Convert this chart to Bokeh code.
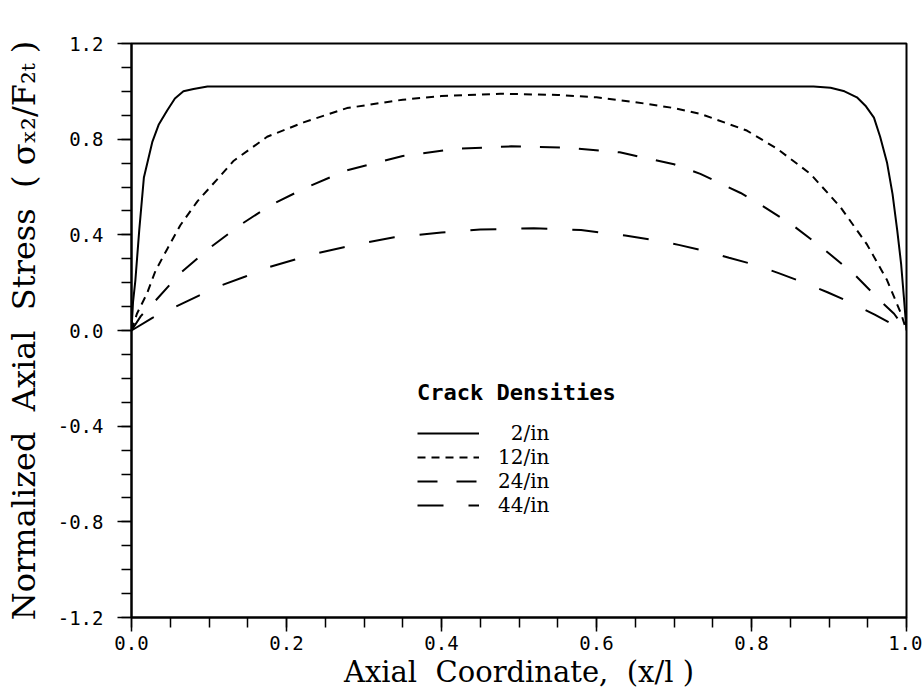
from bokeh.plotting import figure
from bokeh.models import Range1d, FixedTicker, PrintfTickFormatter, Legend, LegendItem
from bokeh.embed import file_html
from bokeh.resources import INLINE
import numpy as np

# ---- data ----
x_2 = [0, 0.002, 0.005, 0.01, 0.016, 0.027, 0.035, 0.046, 0.056, 0.067, 0.08, 0.098, 0.12,
       0.5, 0.88, 0.902, 0.92, 0.936, 0.947, 0.958, 0.966, 0.975, 0.982, 0.988, 0.993, 0.9966, 1.0]
y_2 = [0, 0.12, 0.21, 0.42, 0.64, 0.79, 0.86, 0.92, 0.97, 1.0, 1.01, 1.02, 1.02,
       1.02, 1.02, 1.015, 1.0, 0.975, 0.94, 0.89, 0.81, 0.70, 0.57, 0.42, 0.28, 0.14, 0.0]

x_12 = [0, 0.007, 0.02, 0.031, 0.046, 0.063, 0.085, 0.11, 0.132, 0.175, 0.222, 0.278, 0.35,
        0.4, 0.476, 0.55, 0.6, 0.65, 0.7, 0.734, 0.794, 0.833, 0.876, 0.915, 0.949, 0.975, 0.993, 1.0]
y_12 = [0, 0.07, 0.155, 0.25, 0.34, 0.44, 0.54, 0.63, 0.71, 0.81, 0.87, 0.93, 0.965,
        0.98, 0.99, 0.985, 0.975, 0.955, 0.93, 0.906, 0.836, 0.76, 0.655, 0.515, 0.36, 0.21, 0.07, 0]

x_24 = [0, 0.012, 0.031, 0.063, 0.102, 0.141, 0.181, 0.227, 0.278, 0.35, 0.42, 0.49, 0.56,
        0.63, 0.7, 0.734, 0.786, 0.81, 0.852, 0.893, 0.932, 0.966, 0.984, 1.0]
y_24 = [0, 0.06, 0.125, 0.24, 0.348, 0.443, 0.527, 0.60, 0.67, 0.73, 0.76, 0.77, 0.765,
        0.745, 0.695, 0.655, 0.575, 0.53, 0.443, 0.341, 0.237, 0.125, 0.07, 0]

x_44 = [0, 0.027, 0.057, 0.087, 0.117, 0.147, 0.177, 0.21, 0.242, 0.274, 0.306, 0.339, 0.4,
        0.45, 0.519, 0.58, 0.637, 0.67, 0.706, 0.738, 0.771, 0.803, 0.835, 0.868, 0.898,
        0.93, 0.959, 0.989, 1.0]
y_44 = [0, 0.053, 0.10, 0.146, 0.19, 0.226, 0.265, 0.296, 0.325, 0.348, 0.37, 0.39, 0.41,
        0.422, 0.428, 0.42, 0.397, 0.38, 0.358, 0.334, 0.304, 0.276, 0.24, 0.20, 0.16,
        0.114, 0.066, 0.014, 0]

NB = "\u00a0"
series_labels = [NB + NB + "2/in", "12/in", "24/in", "44/in"]
legend_title = "Crack Densities"

x_ticks = [0.0, 0.2, 0.4, 0.6, 0.8, 1.0]
y_ticks = [-1.2, -0.8, -0.4, 0.0, 0.4, 0.8, 1.2]

x_label = f"Axial{NB} Coordinate,{NB} (x/l{NB})"
y_label = f"Normalized{NB} Axial{NB} Stress{NB} ( σₓ₂/F₂ₜ )"

# ---- figure ----
p = figure(width=922, height=696, output_backend="svg", toolbar_location=None,
           x_range=Range1d(0, 1), y_range=Range1d(-1.2, 1.2),
           min_border_left=131, min_border_right=16, min_border_top=43, min_border_bottom=79)
p.background_fill_color = "white"
p.border_fill_color = "white"
p.grid.visible = False
p.outline_line_color = "black"
p.outline_line_width = 2
p.outline_line_alpha = 1

x_minor = [round(v, 3) for v in np.arange(0, 1.0001, 0.05)]
y_minor = [round(v, 2) for v in np.arange(-1.2, 1.2001, 0.1)]
p.xaxis.ticker = FixedTicker(ticks=x_ticks, minor_ticks=x_minor)
p.yaxis.ticker = FixedTicker(ticks=y_ticks, minor_ticks=y_minor)
p.xaxis.formatter = PrintfTickFormatter(format="%.1f")
p.yaxis.formatter = PrintfTickFormatter(format="%.1f")

for ax in (p.xaxis[0], p.yaxis[0]):
    ax.axis_line_width = 2
    ax.axis_line_color = "black"
    ax.major_tick_line_width = 1.5
    ax.minor_tick_line_width = 1.5
    ax.major_tick_line_color = "black"
    ax.minor_tick_line_color = "black"
    ax.major_tick_in = 0
    ax.minor_tick_in = 0
    ax.major_label_text_font = "DejaVu Sans Mono"
    ax.major_label_text_font_size = "19px"
    ax.major_label_text_color = "black"
    ax.axis_label_text_font = "DejaVu Serif"
    ax.axis_label_text_font_style = "normal"
    ax.axis_label_text_color = "black"

p.xaxis.axis_label_text_font_size = "29px"
p.yaxis.axis_label_text_font_size = "32px"
p.xaxis.major_tick_out = 14
p.xaxis.minor_tick_out = 10
p.yaxis.major_tick_out = 14
p.yaxis.minor_tick_out = 10
p.xaxis.major_label_standoff = 4
p.yaxis.major_label_standoff = 14
p.xaxis.axis_label = x_label
p.yaxis.axis_label = y_label
p.xaxis.axis_label_standoff = 2
p.yaxis.axis_label_standoff = 12

r2 = p.line(x_2, y_2, line_color="black", line_width=2)
r12 = p.line(x_12, y_12, line_color="black", line_width=2, line_dash="8 6")
r24 = p.line(x_24, y_24, line_color="black", line_width=2, line_dash="20 19")
r44 = p.line(x_44, y_44, line_color="black", line_width=2, line_dash="26 25")

legend = Legend(items=[LegendItem(label=series_labels[0], renderers=[r2]),
                       LegendItem(label=series_labels[1], renderers=[r12]),
                       LegendItem(label=series_labels[2], renderers=[r24]),
                       LegendItem(label=series_labels[3], renderers=[r44])],
                location=(286, 100))
legend.title = legend_title
legend.title_text_font = "DejaVu Sans Mono"
legend.title_text_font_style = "bold"
legend.title_text_font_size = "22px"
legend.title_text_color = "black"
legend.title_standoff = 16
legend.label_text_font = "DejaVu Serif"
legend.label_text_font_size = "20px"
legend.label_text_color = "black"
legend.glyph_width = 62
legend.glyph_height = 18
legend.label_height = 18
legend.label_standoff = 19
legend.spacing = 0
legend.padding = 10
legend.border_line_color = None
legend.background_fill_alpha = 0
p.add_layout(legend)

open("out.html", "w").write(file_html(p, INLINE))
